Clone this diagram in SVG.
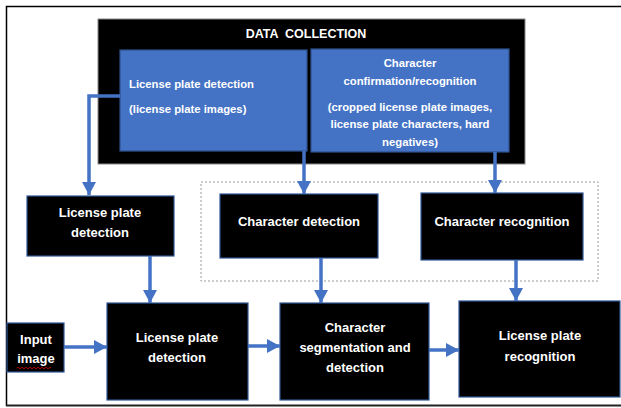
<svg xmlns="http://www.w3.org/2000/svg" width="621" height="408" viewBox="0 0 621 408">
<style>
.blk{fill:#000;stroke:#2F5597;stroke-width:1.2}
.blue{fill:#4472C4;stroke:#2F528F;stroke-width:1.2}
.t{font-family:"Liberation Sans",Arial,sans-serif;font-weight:bold;fill:#fff;text-anchor:middle}
.s13{font-size:13px}
.s11{font-size:11.3px}
.con{stroke:#4472C4;stroke-width:3.5;fill:none}
</style>
<defs>
<marker id="ah" markerUnits="userSpaceOnUse" markerWidth="16" markerHeight="14" refX="13" refY="7" orient="auto">
<path d="M0,0 L13,7 L0,14 Z" fill="#4472C4"/>
</marker>
</defs>
<rect x="0" y="0" width="621" height="408" fill="#fff"/>
<!-- outer frame -->
<path d="M6.5,406 L6.5,6.5 L621,6.5" fill="none" stroke="#000" stroke-width="1.5"/>
<line x1="6" y1="405.5" x2="621" y2="405.5" stroke="#222" stroke-width="2"/>

<g id="data-collection">
<rect x="98" y="19" width="427" height="145" fill="#000" stroke="#888" stroke-width="1"/>
<text class="t" x="306" y="38" font-size="12.5px" xml:space="preserve">DATA  COLLECTION</text>
</g>
<g id="dc-lpd">
<rect class="blue" x="120" y="50" width="187" height="101"/>
<text class="t s11" x="129" y="88" style="text-anchor:start">License plate detection</text>
<text class="t s11" x="129" y="113" style="text-anchor:start">(license plate images)</text>
</g>
<g id="dc-char">
<rect class="blue" x="311" y="49" width="198" height="103"/>
<text class="t s11" x="410" y="67">Character</text>
<text class="t s11" x="410" y="85">confirmation/recognition</text>
<text class="t s11" x="410" y="111">(cropped license plate images,</text>
<text class="t s11" x="410" y="128">license plate characters, hard</text>
<text class="t s11" x="410" y="146">negatives)</text>
</g>
<g id="dashed-group">
<rect x="201" y="182" width="397" height="99" fill="none" stroke="#999" stroke-width="1" stroke-dasharray="2,2"/>
</g>
<g id="lpd-top">
<rect class="blk" x="27" y="196" width="147" height="60"/>
<text class="t s13" x="100" y="217">License plate</text>
<text class="t s13" x="100" y="237">detection</text>
</g>
<g id="char-detection">
<rect class="blk" x="220" y="194" width="158" height="64"/>
<text class="t s13" x="299" y="226">Character detection</text>
</g>
<g id="char-recognition">
<rect class="blk" x="421" y="193" width="162" height="67"/>
<text class="t s13" x="502" y="226">Character recognition</text>
</g>
<g id="input-image">
<rect class="blk" x="7" y="323" width="57" height="49"/>
<text class="t s13" x="36" y="344">Input</text>
<text class="t s13" x="36" y="363">image</text>
<path d="M17,368 q1,-1.5 2,0 t2,0 t2,0 t2,0 t2,0 t2,0 t2,0 t2,0 t2,0 t2,0 t2,0 t2,0 t2,0 t2,0 t2,0 t2,0 t2,0" fill="none" stroke="#d00" stroke-width="0.8"/>
</g>
<g id="lpd-bottom">
<rect class="blk" x="107" y="303" width="141" height="97"/>
<text class="t s13" x="177" y="342">License plate</text>
<text class="t s13" x="177" y="362">detection</text>
</g>
<g id="char-seg">
<rect class="blk" x="280" y="303" width="149" height="97"/>
<text class="t s13" x="355" y="332">Character</text>
<text class="t s13" x="355" y="352">segmentation and</text>
<text class="t s13" x="355" y="372">detection</text>
</g>
<g id="lp-recognition">
<rect class="blk" x="459" y="301" width="161" height="96"/>
<text class="t s13" x="540" y="340">License plate</text>
<text class="t s13" x="540" y="361">recognition</text>
</g>
<g id="connectors">
<path class="con" d="M120,96 L89,96 L89,195" marker-end="url(#ah)"/>
<path class="con" d="M304,151 L304,194" marker-end="url(#ah)"/>
<path class="con" d="M495,152 L495,193" marker-end="url(#ah)"/>
<path class="con" d="M150,256 L150,303" marker-end="url(#ah)"/>
<path class="con" d="M321,258 L321,303" marker-end="url(#ah)"/>
<path class="con" d="M516,260 L516,301" marker-end="url(#ah)"/>
<path class="con" d="M64,347 L107,347" marker-end="url(#ah)"/>
<path class="con" d="M248,346 L280,346" marker-end="url(#ah)"/>
<path class="con" d="M429,350 L459,350" marker-end="url(#ah)"/>
</g>
</svg>
